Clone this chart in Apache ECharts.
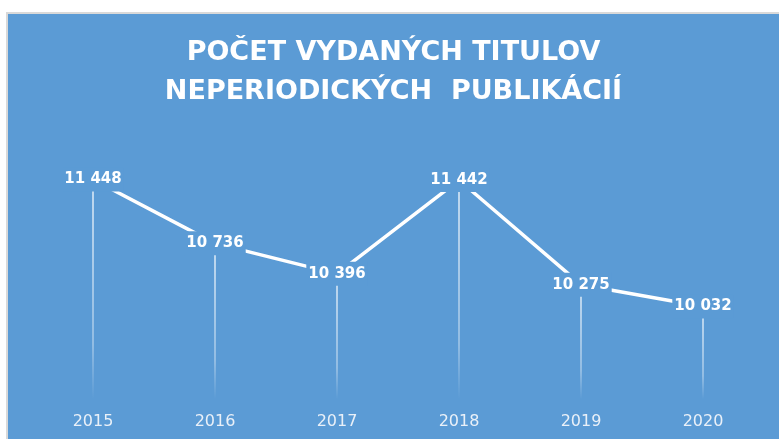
<!DOCTYPE html>
<html>
<head>
    <meta charset="utf-8">
    <title>ECharts</title>
    <script src="https://cdn.jsdelivr.net/npm/echarts@6/dist/echarts.min.js"></script>
    <style>
      body { margin: 0; background: #fff; }
      #frame { position: absolute; left: 6px; top: 12px; width: 773px; height: 427px;
               border-left: 2px solid #d9d9d9; border-top: 2px solid #d9d9d9; }
      #main { width: 771px; height: 425px; background: #5b9bd5; }
    </style>
</head>
<body>
    <div id="frame"><div id="main"></div></div>
    <script type="text/javascript">
    // roky a počet titulov
    var years = ['2015', '2016', '2017', '2018', '2019', '2020'];
    var titles = [11448, 10736, 10396, 11442, 10275, 10032];

    var blue = '#5b9bd5';
    var chart = echarts.init(document.getElementById('main'));

    function fmt(v) {
      return String(v).replace(/\B(?=(\d{3})+(?!\d))/g, ' ');
    }

    var option = {
        backgroundColor: blue,
        title: {
            text: 'POČET VYDANÝCH TITULOV\nNEPERIODICKÝCH  PUBLIKÁCIÍ',
            left: 'center',
            top: 14,
            padding: [5, 0, 5, 8],
            textStyle: {
                color: '#fff',
                fontFamily: 'DejaVu Sans',
                fontWeight: 'bold',
                fontSize: 27,
                lineHeight: 39
            }
        },
        grid: { left: 24, right: 15, top: 116, bottom: 40 },
        xAxis: {
            type: 'category',
            data: years,
            axisLine: { show: false },
            axisTick: { show: false },
            axisLabel: { color: '#e9f0f8', fontFamily: 'DejaVu Sans', fontSize: 16, margin: 15 }
        },
        yAxis: {
            type: 'value',
            min: 9000,
            max: 12000,
            show: false,
            splitLine: { show: false }
        },
        series: [
          {
            // zvislé čiary k osi
            type: 'bar',
            data: titles,
            barWidth: 1.5,
            silent: true,
            itemStyle: {
              color: new echarts.graphic.LinearGradient(0, 0, 0, 1, [
                { offset: 0, color: 'rgba(255,255,255,0.85)' },
                { offset: 0.75, color: 'rgba(255,255,255,0.45)' },
                { offset: 1, color: 'rgba(255,255,255,0)' }
              ])
            }
          },
          {
            type: 'line',
            data: titles,
            symbol: 'circle',
            symbolSize: 0,
            showSymbol: true,
            lineStyle: { color: '#fff', width: 3.5 },
            label: {
              show: true,
              position: 'inside',
              color: '#fff',
              fontFamily: 'DejaVu Sans',
              fontWeight: 'bold',
              fontSize: 15,
              lineHeight: 16,
              backgroundColor: blue,
              padding: [4, 2],
              formatter: function (p) { return fmt(p.value); }
            },
            z: 3
          }
        ]
    };

    chart.setOption(option);
    </script>
</body>
</html>
